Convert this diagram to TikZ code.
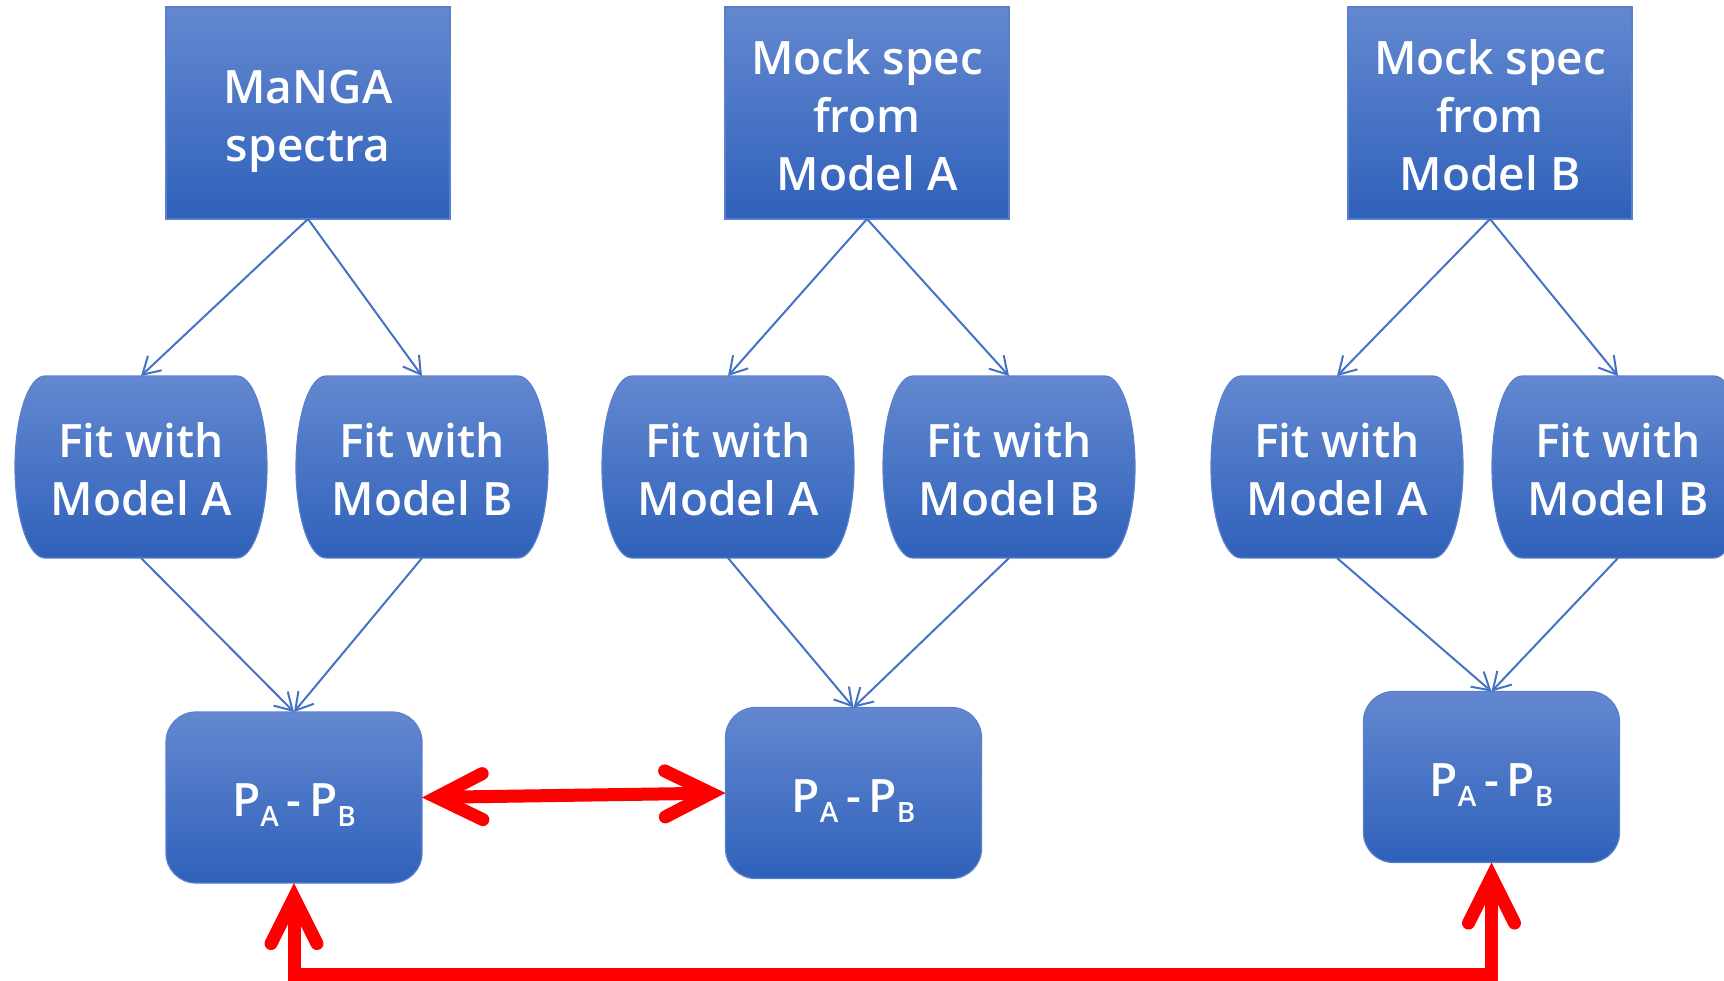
\documentclass[tikz,border=0pt]{standalone}
\usepackage{fontspec}
\setmainfont{Open Sans}
\newfontfamily\boxfont{Open Sans Semibold}
\usetikzlibrary{arrows.meta,backgrounds}
\definecolor{boxtop}{HTML}{6388D0}
\definecolor{boxbot}{HTML}{2F61BA}
\definecolor{boxedge}{HTML}{5A80CB}
\definecolor{linkblue}{HTML}{4472C4}
\definecolor{pred}{HTML}{FF0000}
\newcommand\boxtxt[1]{\raisebox{-3.9pt}[\height][\depth]{\begin{tabular}{@{}c@{}}#1\end{tabular}}}
\newcommand\psub[1]{\raisebox{-5pt}{\fontsize{14}{15}\selectfont #1}}
\newcommand\fitshape[1]{%
  \path[boxshade] ([xshift=15pt]#1.north west) -- ([xshift=-15pt]#1.north east)
    arc[start angle=90,end angle=-90,x radius=15pt,y radius=45.5pt]
    -- ([xshift=15pt]#1.south west)
    arc[start angle=270,end angle=90,x radius=15pt,y radius=45.5pt] -- cycle;}
\begin{document}
\begin{tikzpicture}[x=0.5pt,y=0.5pt,
  boxshade/.style={top color=boxtop,bottom color=boxbot,draw=boxedge,line width=0.6pt},
  txtfont/.style={text=white,font=\boxfont\fontsize{23}{29}\selectfont,inner sep=0pt,outer sep=0pt},
  srcbox/.style={txtfont,rectangle,boxshade,minimum width=142pt,minimum height=106pt},
  fitbox/.style={txtfont,rectangle,minimum width=126pt,minimum height=91pt},
  diffbox/.style={txtfont,rectangle,rounded corners=15pt,boxshade,minimum width=128pt,minimum height=85.5pt},
  bluelink/.style={draw=linkblue,line width=1pt,-{Straight Barb[length=8.5pt,width=10pt]}},
  redlink/.style={draw=pred,line width=6.5pt,line join=miter,
    {Straight Barb[length=23pt,width=23pt,line cap=round,line join=miter]}-{Straight Barb[length=23pt,width=23pt,line cap=round,line join=miter]}}]
\useasboundingbox (0,0) rectangle (1724,-980);
% source boxes
\node[srcbox] (manga) at (308,-113) {\boxtxt{MaNGA\\spectra}};
\node[srcbox] (mocka) at (867,-113) {\boxtxt{Mock spec\\from\\Model A}};
\node[srcbox] (mockb) at (1490,-113) {\boxtxt{Mock spec\\from\\Model B}};
% fit boxes
\node[fitbox] (fa1) at (141,-467) {\boxtxt{Fit with\\Model A}};
\node[fitbox] (fb1) at (422,-467) {\boxtxt{Fit with\\Model B}};
\node[fitbox] (fa2) at (728,-467) {\boxtxt{Fit with\\Model A}};
\node[fitbox] (fb2) at (1009,-467) {\boxtxt{Fit with\\Model B}};
\node[fitbox] (fa3) at (1337,-467) {\boxtxt{Fit with\\Model A}};
\node[fitbox] (fb3) at (1618,-467) {\boxtxt{Fit with\\Model B}};
% difference boxes
\node[diffbox] (p1) at (294,-797.5) {\boxtxt{P\psub{A}\,-\,P\psub{B}}};
\node[diffbox] (p2) at (853.5,-793) {\boxtxt{P\psub{A}\,-\,P\psub{B}}};
\node[diffbox] (p3) at (1491.5,-777) {\boxtxt{P\psub{A}\,-\,P\psub{B}}};
\begin{pgfonlayer}{background}
\fill[white] (0,0) rectangle (1724,-980);
\fitshape{fa1}\fitshape{fb1}\fitshape{fa2}\fitshape{fb2}\fitshape{fa3}\fitshape{fb3}
\end{pgfonlayer}
% blue connectors
\draw[bluelink] (manga.south) -- (fa1.north);
\draw[bluelink] (manga.south) -- (fb1.north);
\draw[bluelink] (fa1.south) -- (p1.north);
\draw[bluelink] (fb1.south) -- (p1.north);
\draw[bluelink] (mocka.south) -- (fa2.north);
\draw[bluelink] (mocka.south) -- (fb2.north);
\draw[bluelink] (fa2.south) -- (p2.north);
\draw[bluelink] (fb2.south) -- (p2.north);
\draw[bluelink] (mockb.south) -- (fa3.north);
\draw[bluelink] (mockb.south) -- (fb3.north);
\draw[bluelink] (fa3.south) -- (p3.north);
\draw[bluelink] (fb3.south) -- (p3.north);
% red comparisons
\coordinate (bot) at (0,-974);
\draw[redlink] (p1.east) -- (p2.west);
\draw[redlink] (p1.south) -- (p1.south |- bot) -| (p3.south);
\end{tikzpicture}
\end{document}
